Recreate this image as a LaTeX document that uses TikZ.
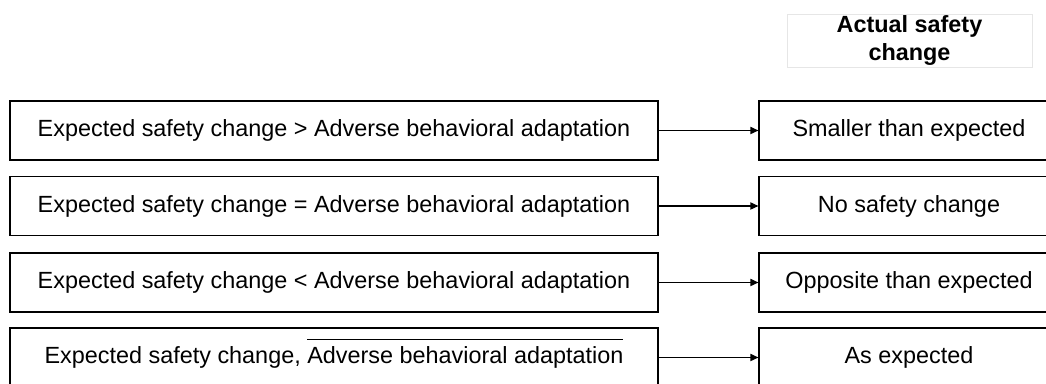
\documentclass[tikz,border=0pt]{standalone}
\usepackage{fontspec}
\setmainfont{Liberation Sans}
\usetikzlibrary{arrows.meta}
\definecolor{headgray}{RGB}{230,230,230}
\begin{document}
\begin{tikzpicture}[x=0.5pt, y=-0.5pt, ->, >={Triangle[length=4pt,width=3.6pt]}, line width=0.6pt,
    every node/.style={font=\fontsize{11.7}{14}\selectfont, inner sep=0pt},
    condbox/.style={draw, minimum width=324pt, minimum height=29.5pt},
    outbox/.style={draw, minimum width=150pt, minimum height=29.5pt},
    headbox/.style={draw=headgray, line width=0.4pt, minimum width=122.5pt, minimum height=26.5pt,
      align=center, font=\fontsize{11.7}{14}\selectfont\bfseries}]

            \useasboundingbox (0,0) rectangle (1046,384);
            \clip (0,0) rectangle (1046,384);

            % Nodes
            \node[headbox] (head) at (909.5,40.5) {Actual safety\\change};

            \node[condbox] (c1) at (334,130.5) {Expected safety change > Adverse behavioral adaptation};
            \node[condbox] (c2) at (334,206) {Expected safety change = Adverse behavioral adaptation};
            \node[condbox] (c3) at (334,282.5) {Expected safety change < Adverse behavioral adaptation};
            \node[condbox] (c4) at (334,357.5) {Expected safety change, $\smash{\overline{\rule{0pt}{0.92em}\mbox{Adverse behavioral adaptation}}}$};

            \node[outbox] (o1) at (909,130.5) {Smaller than expected};
            \node[outbox] (o2) at (909,206) {No safety change};
            \node[outbox] (o3) at (909,282.5) {Opposite than expected};
            \node[outbox] (o4) at (909,357.5) {As expected};

            % Directed edges
            \draw (c1) -- (o1);
            \draw (c2) -- (o2);
            \draw (c3) -- (o3);
            \draw (c4) -- (o4);

          \end{tikzpicture}
\end{document}
